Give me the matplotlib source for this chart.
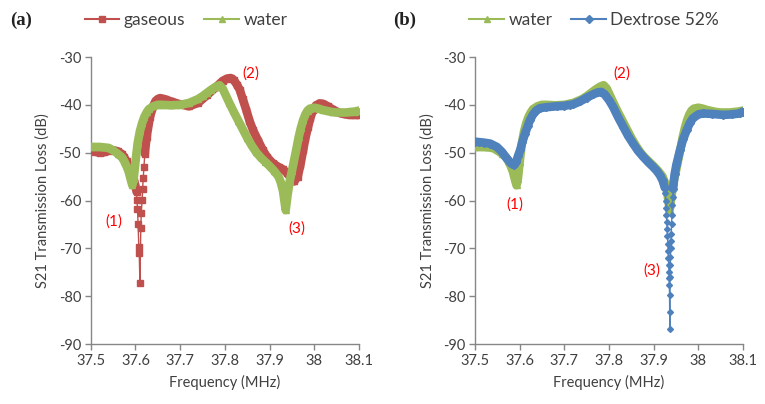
import numpy as np
import matplotlib
matplotlib.use("Agg")
import matplotlib.pyplot as plt
from matplotlib.lines import Line2D

plt.rcParams['font.family'] = ['Lato', 'DejaVu Sans']
plt.rcParams['axes.unicode_minus'] = False

# ---------------- data ----------------
x_ticks = [37.5, 37.6, 37.7, 37.8, 37.9, 38.0, 38.1]
x_tick_labels = ["37.5", "37.6", "37.7", "37.8", "37.9", "38", "38.1"]
y_ticks = [-90, -80, -70, -60, -50, -40, -30]

# water (shared by both panels)
water_f = [37.500, 37.510, 37.520, 37.530, 37.540, 37.550, 37.560, 37.570, 37.575, 37.580,
           37.585, 37.590, 37.593, 37.596, 37.600, 37.605, 37.610, 37.615, 37.620, 37.625,
           37.630, 37.640, 37.650, 37.660, 37.680, 37.700, 37.720, 37.740, 37.750, 37.760,
           37.770, 37.780, 37.788, 37.795, 37.800, 37.810, 37.820, 37.830, 37.840, 37.850,
           37.860, 37.870, 37.880, 37.890, 37.900, 37.910, 37.920, 37.925, 37.930, 37.933,
           37.936, 37.940, 37.945, 37.950, 37.955, 37.960, 37.965, 37.970, 37.975, 37.980,
           37.985, 37.990, 38.000, 38.010, 38.020, 38.030, 38.040, 38.050, 38.060, 38.070,
           38.080, 38.090, 38.100]
water_db = [-48.8, -48.8, -48.8, -48.9, -49.0, -49.5, -50.2, -51.0, -51.8, -52.8,
            -54.0, -55.8, -56.8, -55.5, -52.0, -48.0, -45.5, -43.8, -42.5, -41.6,
            -40.9, -40.3, -40.0, -40.0, -40.1, -40.0, -39.6, -38.8, -38.2, -37.5,
            -36.8, -36.2, -35.9, -36.6, -37.6, -39.6, -41.5, -43.3, -45.1, -46.9,
            -48.5, -49.9, -51.0, -51.9, -52.8, -53.8, -55.0, -56.2, -58.0, -60.0,
            -62.0, -59.0, -56.0, -53.8, -51.5, -49.2, -46.8, -44.8, -43.2, -42.0,
            -41.2, -40.8, -40.6, -40.8, -41.1, -41.3, -41.5, -41.6, -41.6, -41.6,
            -41.5, -41.4, -41.2]

# gaseous: smooth part before dip, sharp dip, smooth part after dip
gas_f_a = [37.500, 37.510, 37.520, 37.530, 37.540, 37.550, 37.560, 37.570, 37.575, 37.580,
           37.585, 37.590, 37.595, 37.600, 37.6027]
gas_db_a = [-49.2, -49.8, -50.0, -49.9, -49.6, -49.5, -49.7, -50.3, -51.0, -51.8,
            -52.8, -53.8, -55.0, -57.0, -58.2]
gas_dip_f = [37.6035, 37.6045, 37.6060, 37.6075, 37.6085, 37.6100, 37.6120, 37.6130,
             37.6150, 37.6160, 37.6175, 37.6190]
gas_dip_db = [-59.9, -61.7, -65.0, -69.7, -71.0, -77.2, -65.8, -62.6,
              -59.9, -57.6, -55.2, -53.0]
gas_f_b = [37.6210, 37.625, 37.6325, 37.640, 37.645, 37.650, 37.655, 37.665, 37.680, 37.700,
           37.720, 37.740, 37.760, 37.780, 37.795, 37.805, 37.813, 37.820, 37.827, 37.833,
           37.840, 37.848, 37.855, 37.863, 37.875, 37.885, 37.895, 37.907, 37.920, 37.930,
           37.940, 37.945, 37.950, 37.955, 37.963, 37.969, 37.975, 37.980, 37.986, 37.991,
           37.997, 38.004, 38.012, 38.020, 38.030, 38.040, 38.050, 38.060, 38.070, 38.080,
           38.090, 38.100]
gas_db_b = [-50.2, -46.7, -42.5, -40.2, -39.2, -38.8, -38.6, -38.8, -39.3, -39.9,
            -40.3, -39.6, -38.0, -36.3, -35.0, -34.5, -34.4, -34.8, -35.8, -36.8,
            -38.8, -41.1, -43.3, -45.3, -47.6, -49.5, -51.0, -52.2, -53.0, -53.5,
            -54.3, -55.0, -55.7, -56.0, -55.0, -52.5, -49.5, -47.0, -44.6, -42.8,
            -41.1, -40.1, -39.7, -39.8, -40.3, -40.9, -41.4, -41.8, -42.0, -42.1,
            -42.1, -42.1]

# Dextrose 52%
dex_f_a = [37.500, 37.510, 37.520, 37.534, 37.549, 37.560, 37.571, 37.580, 37.587, 37.592,
           37.596, 37.601, 37.606, 37.612, 37.618, 37.623, 37.630, 37.637, 37.645, 37.660,
           37.683, 37.700, 37.713, 37.720, 37.735, 37.750, 37.765, 37.775, 37.783, 37.790,
           37.800, 37.809, 37.820, 37.832, 37.843, 37.854, 37.865, 37.877, 37.888, 37.899,
           37.907, 37.914, 37.920, 37.925]
dex_db_a = [-47.7, -47.8, -47.9, -48.1, -48.8, -49.8, -51.2, -52.2, -52.6, -52.0,
            -50.8, -49.5, -47.8, -46.0, -44.5, -43.2, -42.0, -41.2, -40.7, -40.5,
            -40.3, -40.2, -40.0, -39.9, -39.3, -38.5, -37.8, -37.4, -37.3, -37.8,
            -39.0, -40.4, -42.5, -44.6, -46.5, -48.1, -49.6, -50.9, -52.0, -53.0,
            -53.8, -54.7, -55.8, -57.3]
dex_dip_f = [37.9262, 37.9270, 37.9278, 37.9286, 37.9294, 37.9302, 37.9310, 37.9318, 37.9325,
             37.9332, 37.9338, 37.9344, 37.9349, 37.9353, 37.9356, 37.9359, 37.9362,
             37.9366, 37.9371, 37.9376, 37.9382, 37.9388, 37.9395, 37.9402, 37.9410,
             37.9418, 37.9427]
dex_dip_db = [-58.5, -60.0, -61.5, -63.0, -64.5, -66.0, -67.5, -69.0, -70.5,
              -72.0, -73.5, -75.0, -76.2, -77.7, -79.8, -83.4, -86.8,
              -76.0, -73.5, -71.8, -70.0, -68.5, -66.9, -65.0, -63.0,
              -61.0, -59.3]
dex_f_b = [37.9436, 37.947, 37.951, 37.959, 37.966, 37.974, 37.981, 37.988, 38.000, 38.011,
           38.030, 38.056, 38.075, 38.093, 38.100]
dex_db_b = [-57.5, -54.5, -52.5, -49.5, -47.2, -45.3, -43.8, -42.8, -42.0, -41.8,
            -41.9, -42.1, -42.0, -41.8, -41.4]

# annotations (label, freq, dB)
ann_a = [("(1)", 37.551, -64.5), ("(2)", 37.859, -33.4), ("(3)", 37.961, -65.8)]
ann_b = [("(1)", 37.589, -60.8), ("(2)", 37.828, -33.4), ("(3)", 37.895, -74.6)]

RED = "#C0504D"
GREEN = "#9BBB59"
BLUE = "#4F81BD"
AXC = "#868686"
TXT = "#404040"

fig = plt.figure(figsize=(7.65, 4.04), dpi=100)
ax1 = fig.add_axes([0.1186, 0.1485, 0.3507, 0.7104])
ax2 = fig.add_axes([0.6209, 0.1485, 0.3503, 0.7104])

BAND = 6.2


def draw_series(ax, parts, color, marker, ms, ms_dip):
    f_all = np.concatenate([np.asarray(p[0]) for p in parts])
    d_all = np.concatenate([np.asarray(p[1]) for p in parts])
    ax.plot(f_all, d_all, color=color, lw=1.0, zorder=3)
    for p in parts:
        if p[2]:
            ax.plot(p[0], p[1], color=color, lw=BAND, solid_capstyle='round',
                    solid_joinstyle='round', marker=marker, ms=ms, mec=color,
                    mfc=color, zorder=3)
        else:
            ax.plot(p[0], p[1], ls='none', marker=marker, ms=ms_dip, mec=color,
                    mfc=color, zorder=3)


def style(ax):
    ax.set_xlim(37.5, 38.1)
    ax.set_ylim(-90, -30)
    ax.set_xticks(x_ticks)
    ax.set_xticklabels(x_tick_labels)
    ax.set_yticks(y_ticks)
    for s in ["top", "right"]:
        ax.spines[s].set_visible(False)
    for s in ["left", "bottom"]:
        ax.spines[s].set_color(AXC)
        ax.spines[s].set_linewidth(1.0)
    ax.tick_params(axis='both', direction='out', length=4, width=1.0, color=AXC,
                   labelsize=10.5, labelcolor=TXT, pad=3)
    ax.set_xlabel("Frequency (MHz)", fontsize=10.5, color=TXT, labelpad=5)
    ax.set_ylabel("S21 Transmission Loss (dB)", fontsize=10.5, color=TXT, labelpad=6)


# panel a
draw_series(ax1, [(gas_f_a, gas_db_a, True), (gas_dip_f, gas_dip_db, False),
                  (gas_f_b, gas_db_b, True)], RED, "s", 4.6, 4.2)
draw_series(ax1, [(water_f, water_db, True)], GREEN, "^", 4.6, 4.2)
style(ax1)
for t, f, d in ann_a:
    ax1.text(f, d, t, color="#FF0000", fontsize=11, ha="center", va="center")

# panel b
draw_series(ax2, [(water_f, water_db, True)], GREEN, "^", 4.6, 4.2)
draw_series(ax2, [(dex_f_a, dex_db_a, True), (dex_dip_f, dex_dip_db, False),
                  (dex_f_b, dex_db_b, True)], BLUE, "D", 4.0, 3.0)
style(ax2)
for t, f, d in ann_b:
    ax2.text(f, d, t, color="#FF0000", fontsize=11, ha="center", va="center")

# legends
h_gas = Line2D([], [], color=RED, lw=1.5, marker="s", ms=4.5)
h_wat = Line2D([], [], color=GREEN, lw=1.5, marker="^", ms=4.5)
h_dex = Line2D([], [], color=BLUE, lw=1.5, marker="D", ms=3.8)
leg_kw = dict(ncol=2, frameon=False, fontsize=12.5, handlelength=2.0, handletextpad=0.25,
              columnspacing=1.1, loc="center", labelcolor=TXT)
ax1.legend([h_gas, h_wat], ["gaseous", "water"], bbox_to_anchor=(0.355, 1.13), **leg_kw)
ax2.legend([h_wat, h_dex], ["water", "Dextrose 52%"], bbox_to_anchor=(0.445, 1.13), **leg_kw)

fig.text(10 / 765, 1 - 20 / 404, "(a)", fontsize=13.5, fontweight="bold",
         family=["Liberation Serif", "DejaVu Serif"], va="center", ha="left", color="#222222")
fig.text(393 / 765, 1 - 20 / 404, "(b)", fontsize=13.5, fontweight="bold",
         family=["Liberation Serif", "DejaVu Serif"], va="center", ha="left", color="#222222")

fig.savefig("out.png", dpi=100)
